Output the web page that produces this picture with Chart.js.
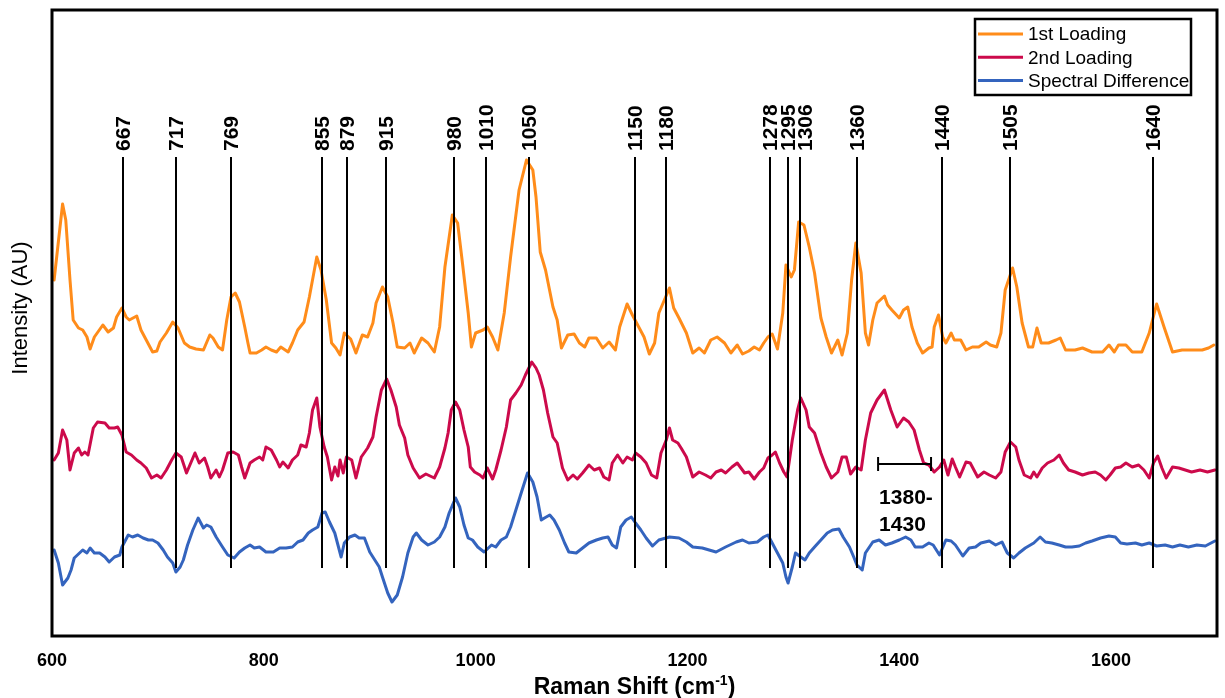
<!DOCTYPE html>
<html>
<head>
<meta charset="utf-8">
<script src="https://cdn.jsdelivr.net/npm/chart.js@4.4.1/dist/chart.umd.min.js"></script>
<style>
  html, body { margin: 0; padding: 0; background: #fff; }
  #wrap { width: 1225px; height: 698px; }
</style>
</head>
<body>
<div id="wrap"><canvas id="spectra" width="1225" height="698"></canvas></div>
<script>
const FONT = "'Liberation Sans', Arial, Helvetica, sans-serif";

const xTicks = [600, 800, 1000, 1200, 1400, 1600];
const peakShifts = [667, 717, 769, 855, 879, 915, 980, 1010, 1050, 1150, 1180, 1278, 1295, 1306, 1360, 1440, 1505, 1640];
const bandRange = [1380, 1430];

// 1st loading (offset upwards)
const firstShift = [602, 610, 613, 617, 620, 625, 629, 633, 636, 640, 648, 653, 658, 661, 666, 670, 673, 680, 684, 689,
  695, 699, 702, 708, 714, 719, 725, 730, 736, 743, 749, 752, 757, 761, 765, 769, 773, 777, 782, 785,
  787, 793, 798, 802, 807, 812, 816, 823, 827, 832, 838, 843, 850, 854, 859, 864, 868, 872, 876, 882,
  887, 893, 898, 903, 906, 912, 917, 922, 926, 933, 938, 942, 949, 955, 961, 966, 971, 978, 983, 988,
  993, 996, 1000, 1007, 1011, 1016, 1021, 1027, 1033, 1041, 1048, 1054, 1057, 1061, 1066, 1073, 1077, 1081, 1087, 1093,
  1098, 1103, 1107, 1114, 1120, 1126, 1132, 1136, 1143, 1148, 1154, 1159, 1164, 1169, 1173, 1183, 1187, 1192, 1199, 1205,
  1211, 1216, 1222, 1228, 1235, 1241, 1247, 1252, 1258, 1263, 1268, 1272, 1276, 1280, 1285, 1290, 1293, 1298, 1301, 1305,
  1310, 1315, 1320, 1326, 1331, 1336, 1342, 1346, 1351, 1355, 1359, 1364, 1368, 1371, 1375, 1379, 1386, 1389, 1393, 1400,
  1404, 1408, 1412, 1417, 1422, 1428, 1431, 1433, 1437, 1441, 1444, 1449, 1452, 1458, 1463, 1469, 1475, 1482, 1486, 1492,
  1496, 1500, 1507, 1511, 1516, 1522, 1526, 1530, 1534, 1541, 1548, 1552, 1557, 1566, 1573, 1582, 1592, 1598, 1603, 1607,
  1614, 1620, 1629, 1636, 1643, 1650, 1658, 1667, 1676, 1686, 1692, 1697];
const firstIntensity = [356, 432, 416, 356, 316, 308, 306, 299, 287, 299, 311, 304, 308, 319, 328, 319, 316, 320, 306, 296,
  284, 285, 294, 303, 314, 308, 293, 289, 287, 286, 301, 298, 289, 286, 316, 339, 343, 334, 309, 293,
  283, 283, 286, 289, 286, 284, 289, 284, 293, 306, 314, 339, 379, 366, 336, 293, 288, 281, 303, 297,
  283, 301, 299, 313, 333, 349, 339, 313, 289, 288, 293, 283, 298, 293, 284, 309, 369, 421, 413, 369,
  323, 289, 303, 306, 309, 299, 286, 323, 379, 446, 476, 466, 439, 384, 366, 329, 316, 288, 301, 302,
  293, 289, 298, 298, 288, 294, 286, 309, 332, 321, 309, 299, 282, 293, 323, 348, 328, 318, 303, 283,
  288, 283, 296, 299, 293, 283, 291, 282, 285, 289, 286, 293, 299, 302, 287, 323, 371, 359, 366, 414,
  411, 389, 363, 318, 299, 283, 296, 281, 303, 356, 393, 363, 303, 291, 316, 333, 340, 331, 326, 318,
  326, 329, 309, 293, 283, 288, 289, 309, 321, 299, 293, 303, 296, 296, 286, 289, 289, 294, 291, 289,
  303, 346, 368, 349, 313, 289, 289, 308, 293, 293, 296, 298, 286, 286, 288, 284, 284, 291, 284, 291,
  291, 284, 284, 303, 332, 309, 284, 286, 286, 286, 288, 291];

// 2nd loading (middle)
const secondShift = [602, 606, 610, 614, 617, 621, 625, 628, 631, 634, 639, 643, 650, 654, 659, 662, 666, 670, 675, 680,
  684, 689, 694, 699, 703, 708, 713, 717, 722, 727, 731, 735, 739, 744, 747, 750, 755, 758, 761, 766,
  771, 776, 779, 782, 787, 791, 796, 799, 802, 807, 812, 815, 818, 823, 827, 832, 835, 840, 843, 846,
  850, 853, 857, 860, 864, 867, 870, 872, 875, 878, 883, 887, 892, 898, 903, 906, 911, 916, 920, 925,
  928, 933, 936, 941, 947, 953, 961, 966, 971, 974, 977, 981, 985, 989, 993, 995, 999, 1004, 1007, 1011,
  1016, 1019, 1024, 1029, 1033, 1038, 1043, 1047, 1053, 1057, 1060, 1064, 1068, 1073, 1077, 1082, 1087, 1092, 1096, 1101,
  1107, 1112, 1117, 1121, 1126, 1129, 1134, 1139, 1143, 1148, 1151, 1156, 1161, 1166, 1171, 1175, 1180, 1183, 1186, 1191,
  1194, 1199, 1205, 1211, 1217, 1222, 1227, 1232, 1236, 1242, 1247, 1254, 1258, 1263, 1268, 1272, 1276, 1280, 1283, 1287,
  1291, 1294, 1299, 1304, 1307, 1312, 1315, 1320, 1326, 1331, 1336, 1342, 1346, 1350, 1354, 1359, 1364, 1368, 1373, 1379,
  1386, 1392, 1398, 1404, 1409, 1414, 1419, 1423, 1428, 1433, 1438, 1442, 1446, 1450, 1453, 1457, 1463, 1467, 1474, 1480,
  1485, 1491, 1496, 1500, 1505, 1510, 1513, 1518, 1524, 1527, 1530, 1535, 1540, 1546, 1551, 1555, 1560, 1566, 1573, 1579,
  1585, 1590, 1595, 1599, 1604, 1609, 1614, 1620, 1626, 1631, 1636, 1640, 1644, 1648, 1652, 1658, 1664, 1670, 1676, 1684,
  1691, 1698];
const secondIntensity = [176, 183, 206, 196, 166, 183, 188, 181, 184, 181, 208, 214, 213, 208, 208, 209, 201, 184, 181, 176,
  173, 168, 158, 161, 158, 166, 176, 183, 179, 163, 173, 183, 173, 178, 169, 158, 166, 159, 166, 183,
  184, 181, 169, 158, 173, 176, 179, 176, 189, 186, 176, 169, 174, 168, 176, 181, 191, 189, 203, 226,
  238, 209, 189, 179, 156, 169, 160, 176, 163, 179, 176, 158, 179, 188, 199, 219, 246, 257, 246, 229,
  211, 198, 181, 168, 158, 162, 158, 169, 188, 203, 226, 234, 226, 206, 189, 169, 164, 161, 158, 168,
  157, 166, 186, 209, 236, 243, 251, 261, 274, 268, 261, 246, 223, 199, 193, 168, 156, 161, 157, 163,
  171, 166, 168, 159, 156, 173, 181, 173, 179, 176, 183, 179, 173, 161, 158, 183, 196, 208, 196, 193,
  188, 179, 159, 164, 161, 158, 164, 166, 163, 169, 173, 163, 164, 157, 164, 168, 178, 181, 184, 173,
  164, 159, 196, 226, 238, 226, 209, 203, 183, 169, 158, 164, 179, 179, 162, 169, 166, 196, 223, 236,
  246, 226, 209, 218, 214, 206, 186, 173, 171, 164, 169, 176, 161, 177, 169, 159, 174, 173, 159, 164,
  161, 158, 164, 184, 194, 189, 176, 161, 158, 164, 159, 168, 173, 176, 181, 173, 166, 164, 161, 163,
  164, 161, 156, 161, 168, 169, 173, 169, 171, 166, 158, 173, 180, 168, 158, 169, 168, 166, 164, 166,
  164, 166];

// spectral difference (bottom)
const diffShift = [602, 606, 610, 615, 618, 621, 626, 629, 633, 636, 640, 645, 650, 654, 659, 664, 666, 672, 676, 681,
  686, 691, 695, 700, 705, 709, 714, 717, 721, 724, 728, 733, 738, 743, 746, 750, 755, 761, 766, 772,
  777, 782, 787, 791, 796, 802, 809, 815, 821, 827, 832, 837, 842, 846, 851, 855, 858, 862, 867, 870,
  873, 876, 881, 886, 890, 895, 900, 906, 909, 912, 917, 921, 926, 931, 936, 941, 944, 949, 955, 961,
  966, 971, 975, 981, 985, 989, 993, 997, 1002, 1008, 1015, 1019, 1024, 1029, 1033, 1038, 1043, 1049, 1054, 1058,
  1062, 1065, 1070, 1074, 1079, 1084, 1088, 1095, 1101, 1107, 1114, 1120, 1125, 1129, 1133, 1137, 1142, 1147, 1151, 1156,
  1161, 1167, 1173, 1183, 1192, 1199, 1205, 1214, 1227, 1236, 1246, 1252, 1258, 1266, 1272, 1276, 1280, 1285, 1290, 1293,
  1295, 1299, 1302, 1307, 1311, 1315, 1320, 1326, 1332, 1337, 1343, 1347, 1353, 1357, 1360, 1365, 1368, 1375, 1381, 1387,
  1393, 1400, 1406, 1411, 1415, 1422, 1428, 1432, 1438, 1444, 1449, 1453, 1460, 1466, 1472, 1477, 1485, 1491, 1497, 1502,
  1508, 1513, 1519, 1527, 1533, 1538, 1544, 1551, 1557, 1563, 1570, 1576, 1582, 1590, 1598, 1604, 1609, 1615, 1623, 1629,
  1636, 1643, 1651, 1658, 1665, 1673, 1681, 1689, 1698];
const diffIntensity = [86, 73, 51, 58, 66, 78, 83, 86, 83, 88, 83, 83, 79, 74, 79, 81, 89, 101, 99, 101,
  98, 96, 96, 93, 86, 79, 73, 64, 69, 76, 91, 106, 118, 108, 111, 109, 99, 89, 81, 78,
  84, 88, 91, 88, 89, 84, 84, 88, 88, 89, 94, 96, 103, 106, 109, 123, 124, 114, 103, 91,
  79, 93, 99, 101, 98, 98, 84, 74, 69, 59, 43, 34, 41, 59, 83, 99, 103, 96, 91, 94,
  99, 109, 123, 138, 129, 111, 98, 96, 89, 84, 91, 89, 96, 99, 109, 126, 143, 163, 154, 139,
  116, 118, 121, 116, 106, 93, 84, 83, 88, 93, 96, 98, 99, 91, 88, 109, 116, 119, 113, 106,
  98, 90, 96, 99, 98, 94, 89, 88, 84, 89, 94, 96, 93, 94, 99, 101, 93, 83, 73, 59,
  53, 69, 83, 79, 76, 83, 89, 96, 103, 106, 107, 99, 89, 79, 71, 66, 83, 94, 96, 91,
  93, 96, 99, 96, 89, 89, 93, 91, 81, 96, 95, 91, 80, 88, 89, 93, 95, 91, 94, 83,
  78, 83, 88, 93, 99, 94, 93, 91, 89, 89, 90, 93, 95, 98, 100, 99, 93, 92, 93, 91,
  93, 90, 91, 89, 91, 89, 91, 90, 95];

function toPoints(shifts, values) {
  return shifts.map((s, i) => ({ x: s, y: values[i] }));
}

// guide line extent and the band bracket level, in intensity units
const guideTop = 479;
const guideBottom = 68;
const bracketLevel = 172;
// crowded labels get pushed sideways a little (pixels)
const labelNudge = { 1306: 5 };

const frame = {
  id: 'frame',
  afterDraw(chart) {
    const { ctx, chartArea: a } = chart;
    ctx.save();
    ctx.strokeStyle = '#000';
    ctx.lineWidth = 3;
    ctx.strokeRect(a.left, a.top, a.right - a.left, a.bottom - a.top);
    ctx.restore();
  }
};

const peakMarkers = {
  id: 'peakMarkers',
  afterDatasetsDraw(chart) {
    const { ctx, scales: { x, y } } = chart;
    const top = y.getPixelForValue(guideTop);
    const bottom = y.getPixelForValue(guideBottom);
    ctx.save();
    ctx.strokeStyle = '#000';
    ctx.fillStyle = '#000';
    ctx.lineWidth = 2;
    ctx.font = 'bold 21px ' + FONT;
    peakShifts.forEach(s => {
      const px = Math.round(x.getPixelForValue(s));
      ctx.beginPath();
      ctx.moveTo(px, top);
      ctx.lineTo(px, bottom);
      ctx.stroke();
      ctx.save();
      ctx.translate(px + 1 + (labelNudge[s] || 0), top - 6);
      ctx.rotate(-Math.PI / 2);
      ctx.textAlign = 'left';
      ctx.textBaseline = 'middle';
      ctx.fillText(String(s), 0, 0);
      ctx.restore();
    });

    // 1380-1430 band bracket
    const x0 = x.getPixelForValue(bandRange[0]);
    const x1 = x.getPixelForValue(bandRange[1]);
    const by = Math.round(y.getPixelForValue(bracketLevel));
    ctx.beginPath();
    ctx.moveTo(x0, by); ctx.lineTo(x1, by);
    ctx.moveTo(x0, by - 7); ctx.lineTo(x0, by + 7);
    ctx.moveTo(x1, by - 7); ctx.lineTo(x1, by + 7);
    ctx.stroke();
    ctx.textAlign = 'left';
    ctx.textBaseline = 'middle';
    ctx.fillText(bandRange[0] + '-', x0 + 1, by + 34);
    ctx.fillText(String(bandRange[1]), x0 + 1, by + 61);
    ctx.restore();
  }
};

const boxedLegend = {
  id: 'boxedLegend',
  afterDraw(chart) {
    const { ctx, chartArea: a } = chart;
    const w = 216, h = 76;
    const left = a.right - 26 - w;
    const top = a.top + 9;
    ctx.save();
    ctx.fillStyle = '#fff';
    ctx.fillRect(left, top, w, h);
    ctx.strokeStyle = '#000';
    ctx.lineWidth = 2.5;
    ctx.strokeRect(left, top, w, h);
    ctx.font = '19px ' + FONT;
    ctx.textBaseline = 'middle';
    ctx.textAlign = 'left';
    chart.data.datasets.forEach((ds, i) => {
      const cy = top + 15 + i * 23.3;
      ctx.strokeStyle = ds.borderColor;
      ctx.lineWidth = 3;
      ctx.beginPath();
      ctx.moveTo(left + 3, cy);
      ctx.lineTo(left + 48, cy);
      ctx.stroke();
      ctx.fillStyle = '#000';
      ctx.fillText(ds.label, left + 53, cy + 1);
    });
    ctx.restore();
  }
};

const axisTitles = {
  id: 'axisTitles',
  afterDraw(chart) {
    const { ctx, chartArea: a } = chart;
    ctx.save();
    ctx.fillStyle = '#000';
    // y title
    ctx.font = '22px ' + FONT;
    ctx.textAlign = 'center';
    ctx.textBaseline = 'middle';
    ctx.translate(21, 308);
    ctx.rotate(-Math.PI / 2);
    ctx.fillText('Intensity (AU)', 0, 0);
    ctx.restore();

    // x title with superscript
    ctx.save();
    ctx.fillStyle = '#000';
    ctx.textBaseline = 'alphabetic';
    ctx.textAlign = 'left';
    const main = 'bold 23px ' + FONT;
    const sup = 'bold 14px ' + FONT;
    const p1 = 'Raman Shift (cm', p2 = '-1', p3 = ')';
    ctx.font = main;
    const w1 = ctx.measureText(p1).width;
    const w3 = ctx.measureText(p3).width;
    ctx.font = sup;
    const w2 = ctx.measureText(p2).width;
    const cx = (a.left + a.right) / 2;
    let tx = cx - (w1 + w2 + w3) / 2;
    const base = 694;
    ctx.font = main;
    ctx.fillText(p1, tx, base);
    tx += w1;
    ctx.font = sup;
    ctx.fillText(p2, tx, base - 9);
    tx += w2;
    ctx.font = main;
    ctx.fillText(p3, tx, base);
    ctx.restore();
  }
};

new Chart(document.getElementById('spectra'), {
  type: 'line',
  data: {
    datasets: [
      {
        label: '1st Loading',
        data: toPoints(firstShift, firstIntensity),
        borderColor: '#FF8C1A',
      },
      {
        label: '2nd Loading',
        data: toPoints(secondShift, secondIntensity),
        borderColor: '#CC0A4B',
      },
      {
        label: 'Spectral Difference',
        data: toPoints(diffShift, diffIntensity),
        borderColor: '#3464BE',
      },
    ],
  },
  options: {
    responsive: false,
    animation: false,
    devicePixelRatio: 1,
    layout: { padding: { top: 10, right: 8, left: 52, bottom: 0 } },
    elements: {
      line: { borderWidth: 3, tension: 0, borderJoinStyle: 'round', borderCapStyle: 'round', fill: false },
      point: { radius: 0, hoverRadius: 0 },
    },
    plugins: {
      legend: { display: false },
      tooltip: { enabled: false },
    },
    scales: {
      x: {
        type: 'linear',
        min: 600,
        max: 1700,
        grid: { display: false, drawTicks: false },
        border: { display: false },
        afterBuildTicks(axis) {
          axis.ticks = xTicks.map(v => ({ value: v }));
        },
        afterFit(axis) {
          axis.height = 62;
        },
        ticks: {
          padding: 14,
          color: '#000',
          font: { family: FONT, size: 18, weight: 'bold' },
          callback: value => String(value),
        },
      },
      y: {
        display: false,
        min: 0,
        max: 626,
      },
    },
  },
  plugins: [peakMarkers, frame, boxedLegend, axisTitles],
});
</script>
</body>
</html>
